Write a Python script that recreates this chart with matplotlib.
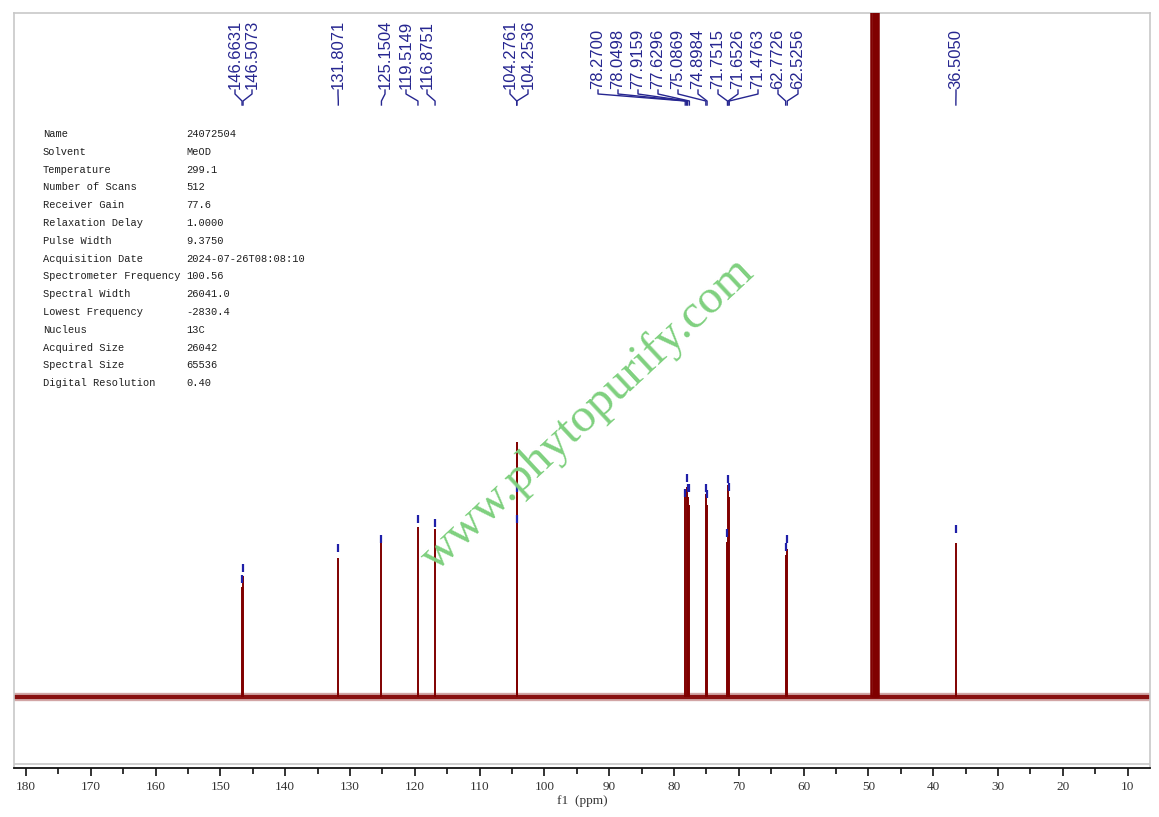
import matplotlib
matplotlib.use("Agg")
import matplotlib.pyplot as plt
from matplotlib.lines import Line2D

# ---------------- data ----------------
peak_ppm = [146.6631, 146.5073, 131.8071, 125.1504, 119.5149, 116.8751,
            104.2761, 104.2536, 78.2700, 78.0498, 77.9159, 77.6296,
            75.0869, 74.8984, 71.7515, 71.6526, 71.4763, 62.7726, 62.5256,
            36.5050]
# peak intensities (arbitrary units, baseline = 0)
peak_height = [110, 121, 139, 154, 170, 168,
               255, 240, 204, 210, 200, 192,
               203, 192, 155, 212, 200, 142, 148,
               154]
# peak-pick marker level for each picked peak
marker_level = [114, 125, 145, 154, 174, 170,
                205, 174, 200, 215, 205, 205,
                205, 199, 160, 214, 206, 146, 154,
                164]
peak_labels = ["146.6631", "146.5073", "131.8071", "125.1504", "119.5149",
               "116.8751", "104.2761", "104.2536", "78.2700", "78.0498",
               "77.9159", "77.6296", "75.0869", "74.8984", "71.7515",
               "71.6526", "71.4763", "62.7726", "62.5256", "36.5050"]
# solvent (CD3OD septet, off scale)
solvent_ppm = [49.55, 49.37, 49.18, 49.00, 48.82, 48.63, 48.45]
solvent_height = [1000, 3000, 6000, 7000, 6000, 3000, 1000]

xticks = [180, 170, 160, 150, 140, 130, 120, 110, 100, 90, 80, 70, 60, 50, 40, 30, 20, 10]
minor_ticks = [175, 165, 155, 145, 135, 125, 115, 105, 95, 85, 75, 65, 55, 45, 35, 25, 15]

param_names = ["Name", "Solvent", "Temperature", "Number of Scans", "Receiver Gain",
               "Relaxation Delay", "Pulse Width", "Acquisition Date",
               "Spectrometer Frequency", "Spectral Width", "Lowest Frequency",
               "Nucleus", "Acquired Size", "Spectral Size", "Digital Resolution"]
param_values = ["24072504", "MeOD", "299.1", "512", "77.6", "1.0000", "9.3750",
                "2024-07-26T08:08:10", "100.56", "26041.0", "-2830.4", "13C",
                "26042", "65536", "0.40"]

# ---------------- layout ----------------
W, H = 1159, 817
# label x positions in image pixels (layout)
label_px = [235, 252, 338, 385, 406, 427, 510, 528,
            598, 618, 638, 658, 678, 698, 718, 738, 758, 778, 798, 956]

spec_color = "#800000"
label_color = "#262690"

fig = plt.figure(figsize=(W / 100, H / 100), dpi=100)
ax_l, ax_r, ax_t, ax_b = 14, 1150, 13, 768
ax = fig.add_axes([ax_l / W, (H - ax_b) / H, (ax_r - ax_l) / W, (ax_b - ax_t) / H])

# baseline (noise band)
ax.axhline(0, color=spec_color, lw=6.0, alpha=0.35, zorder=2)
ax.axhline(0, color=spec_color, lw=3.0, alpha=0.9, zorder=2)

# peaks
ax.vlines(peak_ppm, 0, peak_height, color=spec_color, lw=1.4, zorder=3)
ax.vlines(solvent_ppm, 0, solvent_height, color=spec_color, lw=1.8, zorder=3)

# peak-pick markers
ax.vlines(peak_ppm, marker_level, [m + 8 for m in marker_level],
          color="#1f1fa8", lw=1.6, zorder=4)

# frame and axis
for s in ("top", "left", "right"):
    ax.spines[s].set_color("#c8c8c8")
    ax.spines[s].set_linewidth(1.2)
ax.spines["bottom"].set_color("#111111")
ax.spines["bottom"].set_linewidth(1.3)
ax.add_line(Line2D([0, 1], [(ax_b - 764) / (ax_b - ax_t)] * 2, transform=ax.transAxes,
                   color="#c8c8c8", lw=1.2))
ax.set_yticks([])
ax.set_xticks(xticks)
ax.set_xticks(minor_ticks, minor=True)
ax.set_xlim(181.85, 6.55)
ax.set_ylim(-(ax_b - 697), 697 - ax_t)
ax.tick_params(axis="x", which="major", length=6, width=1.2, color="#111111",
               pad=3, labelsize=9.5)
ax.tick_params(axis="x", which="minor", length=4, width=1.2, color="#111111")
for lab in ax.get_xticklabels():
    lab.set_family("Liberation Serif")
    lab.set_color("#333333")
ax.set_xlabel("f1  (ppm)", family="Liberation Serif", fontsize=9.5, color="#333333",
              labelpad=2)

# peak labels with connectors (drawn in figure pixel coordinates)
fig.canvas.draw()
def peak_px(ppm):
    return ax.transData.transform((ppm, 0))[0]

def fx(x):
    return x / W

def fy(y):
    return 1 - y / H

for ppm, lab, lx in zip(peak_ppm, peak_labels, label_px):
    px = peak_px(ppm)
    fig.text(fx(lx), fy(89), lab, rotation=90, ha="center", va="bottom",
             family="Liberation Sans", fontsize=12, color=label_color)
    xs = [fx(lx), fx(lx), fx(px), fx(px)]
    ys = [fy(90), fy(94), fy(101), fy(105)]
    fig.add_artist(Line2D(xs, ys, transform=fig.transFigure, color=label_color, lw=1.0))

# parameter table
for i, (n, v) in enumerate(zip(param_names, param_values)):
    y = 134 + i * 17.8
    fig.text(fx(43), fy(y), n, ha="left", va="center", family="Liberation Mono",
             fontsize=7.5, color="#1e1e1e")
    fig.text(fx(186), fy(y), v, ha="left", va="center", family="Liberation Mono",
             fontsize=7.5, color="#1e1e1e")

# watermark
fig.text(fx(588), fy(415), "www.phytopurify.com", rotation=43, ha="center", va="center",
         rotation_mode="anchor", family="Liberation Serif", fontsize=35,
         color="#7fd07f", zorder=10)

fig.savefig("out.png", dpi=100)
